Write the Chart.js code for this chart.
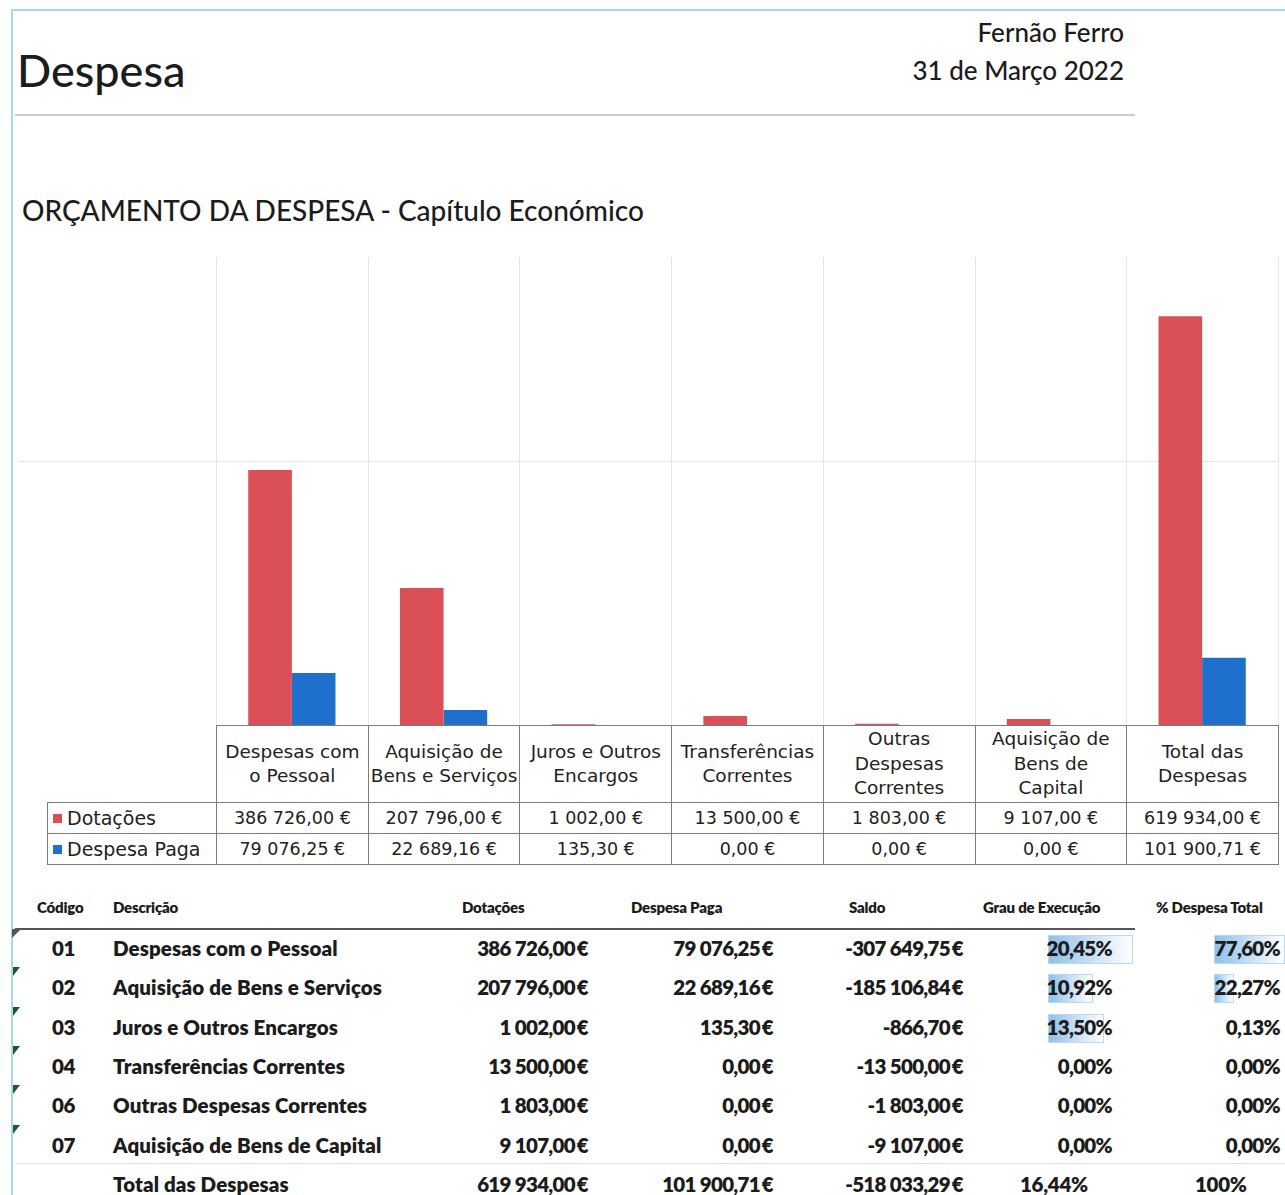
<!DOCTYPE html>
<html lang="pt">
<head>
<meta charset="utf-8">
<title>Despesa</title>
<script src="https://cdn.jsdelivr.net/npm/chart.js@4.4.1/dist/chart.umd.min.js"></script>
<style>
  body { margin: 0; width: 1285px; height: 1195px; background: #fff; position: relative; overflow: hidden; font-family: Lato, "Noto Sans", sans-serif; color: #1c1c1c; }
  .abs { position: absolute; white-space: nowrap; }
  #frameLeft { left: 11px; top: 10px; width: 2px; height: 1185px; background: #a6d8f4; }
  #frameTop { left: 11px; top: 9px; width: 1274px; height: 2px; background: #a6d8f4; }
  #topRule { left: 15px; top: 114px; width: 1120px; height: 2px; background: #cccccc; }
  #pageTitle { left: 17px; top: 42px; font-size: 45px; line-height: 56px; font-weight: 500; }
  .place { right: 161px; font-size: 26px; line-height: 34px; text-align: right; font-weight: 500; }
  #chartTitle { left: 22px; top: 191px; font-size: 28px; line-height: 38px; font-weight: 500; }
  #chartBox { left: 0; top: 230px; width: 1285px; height: 495px; }
  /* data table under the chart */
  #dataTable { position: absolute; left: 47px; top: 725px; border-collapse: collapse; table-layout: fixed; font-family: "DejaVu Sans", sans-serif; color: #222; }
  #dataTable td { border: 1.5px solid #7c7c7c; padding: 0; text-align: center; }
  #dataTable tr.head td { height: 76px; font-size: 18.5px; line-height: 24.5px; vertical-align: middle; }
  #dataTable tr.vals td { height: 30px; font-size: 17.5px; }
  #dataTable td.empty { border-top: none; border-left: none; }
  #dataTable td.leg { text-align: left; font-size: 19px !important; padding-left: 5px; }
  .sw { display: inline-block; width: 9px; height: 9px; margin-right: 5px; vertical-align: 2px; }
  /* lower table */
  .th { font-weight: 800; font-size: 15px; letter-spacing: -0.2px; top: 898px; }
  .td { font-weight: 800; font-size: 20.5px; letter-spacing: -0.3px; line-height: 24px; }
  .desc { letter-spacing: 0.1px; }
  .r { text-align: right; letter-spacing: -0.7px; }
  #headRule { left: 15px; top: 928px; width: 1120px; height: 2px; background: #555; }
  #totalRule { left: 15px; top: 1163px; width: 1270px; height: 1px; background: #e2e2e2; }
  .bar { position: absolute; height: 29px; background: linear-gradient(to right, #8fc0ea, #ffffff); border: 1px solid #b9d9f2; box-sizing: border-box; }
  .flag { position: absolute; width: 0; height: 0; border-top: 9px solid #1d5a2a; border-right: 7px solid transparent; }
</style>
</head>
<body>
<div class="abs" id="frameTop"></div>
<div class="abs" id="frameLeft"></div>
<div class="abs" id="pageTitle">Despesa</div>
<div class="abs place" style="top:15px">Fernão Ferro</div>
<div class="abs place" style="top:53px">31 de Março 2022</div>
<div class="abs" id="topRule"></div>
<div class="abs" id="chartTitle">ORÇAMENTO DA DESPESA - Capítulo Económico</div>
<div class="abs" id="chartBox"><canvas id="barChart" width="1285" height="495"></canvas></div>
<table id="dataTable"><colgroup id="cols"></colgroup><tbody id="tbody"></tbody></table>
<div id="lower"></div>

<script>
// Chart data
const categories = [
  ["Despesas com", "o Pessoal"],
  ["Aquisição de", "Bens e Serviços"],
  ["Juros e Outros", "Encargos"],
  ["Transferências", "Correntes"],
  ["Outras", "Despesas", "Correntes"],
  ["Aquisição de", "Bens de", "Capital"],
  ["Total das", "Despesas"]
];
const dotacoes = [386726.00, 207796.00, 1002.00, 13500.00, 1803.00, 9107.00, 619934.00];
const despesaPaga = [79076.25, 22689.16, 135.30, 0.00, 0.00, 0.00, 101900.71];
const yGridValues = [400000];

// Lower table
const codigos = ["01", "02", "03", "04", "06", "07"];
const descricoes = ["Despesas com o Pessoal", "Aquisição de Bens e Serviços", "Juros e Outros Encargos",
  "Transferências Correntes", "Outras Despesas Correntes", "Aquisição de Bens de Capital", "Total das Despesas"];
const saldos = [-307649.75, -185106.84, -866.70, -13500.00, -1803.00, -9107.00, -518033.29];
const grauExecucao = [20.45, 10.92, 13.50, 0.00, 0.00, 0.00, 16.44];
const pctDespesaTotal = [77.60, 22.27, 0.13, 0.00, 0.00, 0.00, 100];

const RED = "#db4f56";
const BLUE = "#1f6fcc";

// 386726 -> "386 726,00"
function fmtNum(v) {
  const parts = Math.abs(v).toFixed(2).split(".");
  const int = parts[0].replace(/\B(?=(\d{3})+(?!\d))/g, " ");
  return (v < 0 ? "-" : "") + int + "," + parts[1];
}
function fmtPct(v) {
  return v.toFixed(2).replace(".", ",") + "%";
}

// Excel-like grid: one horizontal line running under the legend too, vertical lines between categories
const gridPlugin = {
  id: "excelGrid",
  beforeDatasetsDraw(chart) {
    const { ctx, chartArea, scales } = chart;
    const half = (scales.x.getPixelForValue(1) - scales.x.getPixelForValue(0)) / 2;
    ctx.save();
    ctx.strokeStyle = "#e6e6e6";
    ctx.lineWidth = 1;
    yGridValues.forEach(v => {
      const py = Math.round(scales.y.getPixelForValue(v)) + 0.5;
      ctx.beginPath();
      ctx.moveTo(18, py);
      ctx.lineTo(chartArea.right, py);
      ctx.stroke();
    });
    for (let i = 0; i <= categories.length; i++) {
      const px = Math.round(scales.x.getPixelForValue(i) - half) + 0.5;
      ctx.beginPath();
      ctx.moveTo(px, chartArea.top);
      ctx.lineTo(px, chartArea.bottom);
      ctx.stroke();
    }
    ctx.restore();
  }
};

const ctx = document.getElementById("barChart").getContext("2d");
const chart = new Chart(ctx, {
  type: "bar",
  data: {
    labels: categories,
    datasets: [
      { label: "Dotações", data: dotacoes, backgroundColor: RED },
      { label: "Despesa Paga", data: despesaPaga, backgroundColor: BLUE }
    ]
  },
  options: {
    responsive: false,
    animation: false,
    layout: { padding: { left: 216, right: 7, top: 27, bottom: 0 } },
    datasets: { bar: { categoryPercentage: 0.575, barPercentage: 1.0 } },
    scales: {
      x: { display: false },
      y: { display: false, min: 0, max: 710000 }
    },
    plugins: {
      legend: { display: false },
      tooltip: { enabled: false }
    }
  },
  plugins: [gridPlugin]
});

// Data table lined up with the category slots of the x scale
(function buildDataTable() {
  const xs = chart.scales.x;
  const slot = xs.getPixelForValue(1) - xs.getPixelForValue(0);
  const left = xs.getPixelForValue(0) - slot / 2;
  const table = document.getElementById("dataTable");
  table.style.width = (left - 47 + slot * categories.length) + "px";
  let cols = '<col style="width:' + (left - 47) + 'px">';
  categories.forEach(() => { cols += '<col style="width:' + slot + 'px">'; });
  document.getElementById("cols").innerHTML = cols;

  let html = '<tr class="head"><td class="empty"></td>';
  categories.forEach(c => { html += "<td>" + c.join("<br>") + "</td>"; });
  html += "</tr>";
  const rows = [["Dotações", RED, dotacoes], ["Despesa Paga", BLUE, despesaPaga]];
  rows.forEach(([name, color, vals]) => {
    html += '<tr class="vals"><td class="leg"><span class="sw" style="background:' + color + '"></span>' + name + "</td>";
    vals.forEach(v => { html += "<td>" + fmtNum(v) + " €</td>"; });
    html += "</tr>";
  });
  document.getElementById("tbody").innerHTML = html;
})();

// Lower summary table
(function buildLowerTable() {
  const out = [];
  const add = (cls, style, text) => out.push('<div class="abs ' + cls + '" style="' + style + '">' + text + "</div>");
  add("th", "left:37px", "Código");
  add("th", "left:113px", "Descrição");
  add("th", "left:462px", "Dotações");
  add("th", "left:631px", "Despesa Paga");
  add("th", "left:849px", "Saldo");
  add("th", "left:983px", "Grau de Execução");
  add("th", "left:1156px", "% Despesa Total");
  out.push('<div class="abs" id="headRule"></div>');
  out.push('<div class="abs" id="totalRule"></div>');
  out.push('<div class="abs" style="left:12px;top:929px;width:0;height:0;border-top:9px solid #555;border-right:9px solid transparent"></div>');

  const rowTop = i => 936 + i * 39.3;
  const maxGrau = Math.max(...grauExecucao.slice(0, 6));
  const maxPct = Math.max(...pctDespesaTotal.slice(0, 6));
  for (let i = 0; i < descricoes.length; i++) {
    const t = rowTop(i);
    const isTotal = i === descricoes.length - 1;
    if (!isTotal) {
      if (grauExecucao[i] > 0) {
        out.push('<div class="bar" style="left:1048px;top:' + (t - 1) + 'px;width:' + (85 * grauExecucao[i] / maxGrau) + 'px"></div>');
      }
      if (pctDespesaTotal[i] > 1) {
        out.push('<div class="bar" style="left:1214px;top:' + (t - 1) + 'px;width:' + (71 * pctDespesaTotal[i] / maxPct) + 'px"></div>');
      }
      if (i > 0) out.push('<div class="flag" style="left:13px;top:' + (t - 8) + 'px"></div>');
      add("td", "left:52px;top:" + t + "px", codigos[i]);
    }
    add("td desc", "left:113px;top:" + t + "px", descricoes[i]);
    add("td r", "right:697px;top:" + t + "px", fmtNum(dotacoes[i]) + "\u2009€");
    add("td r", "right:512px;top:" + t + "px", fmtNum(despesaPaga[i]) + "\u2009€");
    add("td r", "right:322px;top:" + t + "px", fmtNum(saldos[i]) + "\u2009€");
    if (isTotal) {
      add("td", "left:1020px;top:" + t + "px", fmtPct(grauExecucao[i]));
      add("td", "left:1195px;top:" + t + "px", pctDespesaTotal[i] + "%");
    } else {
      add("td r", "right:173px;top:" + t + "px", fmtPct(grauExecucao[i]));
      add("td r", "right:5px;top:" + t + "px", fmtPct(pctDespesaTotal[i]));
    }
  }
  document.getElementById("lower").innerHTML = out.join("");
})();
</script>
</body>
</html>
